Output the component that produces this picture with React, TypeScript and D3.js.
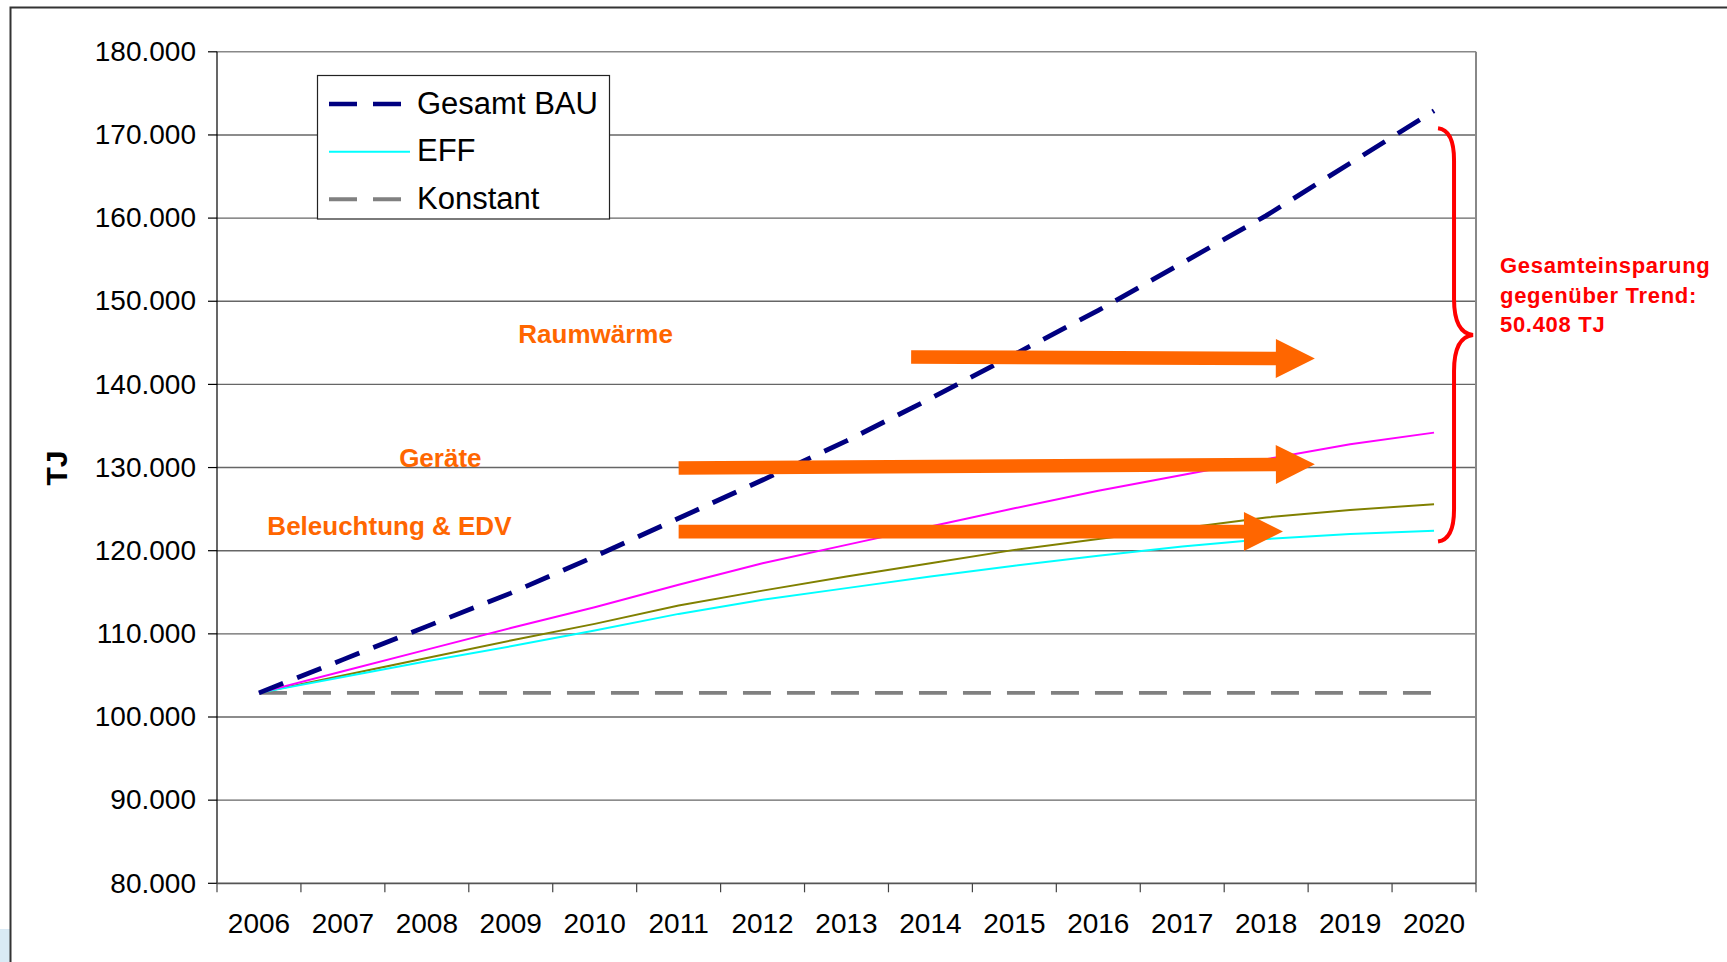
import React from 'react';
import * as d3 from 'd3';

// ---- data (TJ) ----
const years = [2006, 2007, 2008, 2009, 2010, 2011, 2012, 2013, 2014, 2015, 2016, 2017, 2018, 2019, 2020];
const gesamtBAU = [102900, 106900, 110900, 114900, 119300, 123900, 128500, 133200, 138300, 143600, 148900, 154600, 160300, 166600, 172900];
const ohneRaumwaerme = [102900, 105500, 108100, 110700, 113200, 115900, 118500, 120700, 122900, 125100, 127200, 129100, 131000, 132800, 134200];
const ohneGeraete = [102900, 105000, 107100, 109200, 111200, 113400, 115200, 116900, 118500, 120100, 121400, 122700, 124000, 124900, 125600];
const eff = [102900, 104800, 106700, 108500, 110400, 112400, 114100, 115500, 116900, 118200, 119400, 120500, 121400, 122000, 122400];
const konstant = [102900, 102900, 102900, 102900, 102900, 102900, 102900, 102900, 102900, 102900, 102900, 102900, 102900, 102900, 102900];
const yTicks = [80000, 90000, 100000, 110000, 120000, 130000, 140000, 150000, 160000, 170000, 180000];

// legend
const legendNames = ['Gesamt BAU', 'EFF', 'Konstant'];

// annotations (in data units: year, TJ)
const arrowLabels = ['Raumwärme', 'Geräte', 'Beleuchtung & EDV'];
const arrowFromYear = [2013.77, 2011.0, 2011.0];
const arrowToYear = [2018.58, 2018.58, 2018.2];
const arrowFromValue = [143300, 129950, 122300];
const arrowToValue = [143100, 130400, 122300];
const labelYear = [2009.09, 2007.67, 2006.1];
const labelValue = [145000, 130030, 121900];
const savingsText = ['Gesamteinsparung', 'gegenüber Trend:', '50.408 TJ'];
const braceTopValue = 170800;
const braceBottomValue = 121100;

const deLocale = d3.formatLocale({ decimal: ',', thousands: '.', grouping: [3], currency: ['', '€'] });
const fmt = deLocale.format(',d');

const FONT = '"Liberation Sans", Arial, Helvetica, sans-serif';
const ORANGE = '#FF6600';

export default function App() {
  const W = 1727, H = 962;
  const left = 217, right = 1476, top = 51.8, bottom = 883.3;

  const x = d3.scaleBand<string>().domain(years.map(String)).range([left, right]).padding(0);
  const bw = x.bandwidth();
  const xl = d3.scaleLinear().domain([2006, 2020]).range([(x('2006') as number) + bw / 2, (x('2020') as number) + bw / 2]);
  const y = d3.scaleLinear().domain([80000, 180000]).range([bottom, top]);

  const line = d3.line<number>().x((_, i) => xl(years[i])).y((d) => y(d));

  const arrowPoly = (i: number) => {
    const x0 = xl(arrowFromYear[i]), y0 = y(arrowFromValue[i]);
    const x1 = xl(arrowToYear[i]), y1 = y(arrowToValue[i]);
    const dx = x1 - x0, dy = y1 - y0;
    const len = Math.hypot(dx, dy);
    const ux = dx / len, uy = dy / len;
    const nx = -uy, ny = ux;
    const sh = 6.8, hh = 19.5, hl = 39;
    const bx = x1 - ux * hl, by = y1 - uy * hl;
    const pts = [
      [x0 + nx * sh, y0 + ny * sh],
      [bx + nx * sh, by + ny * sh],
      [bx + nx * hh, by + ny * hh],
      [x1, y1],
      [bx - nx * hh, by - ny * hh],
      [bx - nx * sh, by - ny * sh],
      [x0 - nx * sh, y0 - ny * sh],
    ];
    return pts.map((p) => p.join(',')).join(' ');
  };

  // brace
  const bx0 = xl(2020) + 4;
  const bTop = y(braceTopValue), bBot = y(braceBottomValue);
  const bMid = (bTop + bBot) / 2;
  const bv = bx0 + 16, bt = bx0 + 35;
  const bracePath = `M${bx0},${bTop} Q${bv},${bTop + 2} ${bv},${bTop + 32} L${bv},${bMid - 36} Q${bv},${bMid - 2} ${bt},${bMid} Q${bv},${bMid + 2} ${bv},${bMid + 36} L${bv},${bBot - 32} Q${bv},${bBot - 2} ${bx0},${bBot}`;

  const legendY = [104, 151.7, 199.3];

  return (
    <svg width={W} height={H} style={{ position: 'absolute', left: 0, top: 0, display: 'block', background: '#fff' }} fontFamily={FONT}>
      <rect x={0} y={0} width={W} height={H} fill="#fff" />
      {/* page frame */}
      <rect x={0} y={929} width={10} height={33} fill="#d9eaf5" />
      <path d={`M10.5,${H} V7.5 H${W}`} fill="none" stroke="#333" strokeWidth={2} />

      {/* gridlines */}
      {yTicks.filter((t) => t > 80000).map((t) => (
        <line key={t} x1={left} x2={right} y1={y(t)} y2={y(t)} stroke={t === 180000 ? '#888' : '#666'} strokeWidth={1.4} />
      ))}
      {/* right plot border */}
      <line x1={right} x2={right} y1={top} y2={bottom} stroke="#888" strokeWidth={2} />

      {/* series */}
      <path d={line(konstant) || ''} fill="none" stroke="#808080" strokeWidth={3.8} strokeDasharray="28 16" />
      <path d={line(ohneGeraete) || ''} fill="none" stroke="#808000" strokeWidth={2} />
      <path d={line(eff) || ''} fill="none" stroke="#00FFFF" strokeWidth={2} />
      <path d={line(ohneRaumwaerme) || ''} fill="none" stroke="#FF00FF" strokeWidth={2} />
      <path d={line(gesamtBAU) || ''} fill="none" stroke="#000080" strokeWidth={4.8} strokeDasharray="26 15" />

      {/* arrows */}
      {arrowLabels.map((_, i) => (
        <polygon key={i} points={arrowPoly(i)} fill={ORANGE} />
      ))}

      {/* axes */}
      <line x1={left} x2={left} y1={top} y2={bottom} stroke="#000" strokeWidth={1.2} />
      <line x1={left} x2={right} y1={bottom} y2={bottom} stroke="#555" strokeWidth={1.8} />
      {yTicks.map((t) => (
        <g key={t}>
          <line x1={left - 9} x2={left} y1={y(t)} y2={y(t)} stroke="#000" strokeWidth={1.2} />
          <text x={left - 21} y={y(t)} dy="0.33em" textAnchor="end" fontSize={28} fill="#000">{fmt(t)}</text>
        </g>
      ))}
      {years.map((yr, i) => (
        <line key={'t' + yr} x1={left + i * bw} x2={left + i * bw} y1={bottom} y2={bottom + 9} stroke="#444" strokeWidth={1.2} />
      ))}
      <line x1={right} x2={right} y1={bottom} y2={bottom + 9} stroke="#444" strokeWidth={1.2} />
      {years.map((yr) => (
        <text key={'l' + yr} x={(x(String(yr)) as number) + bw / 2} y={933} textAnchor="middle" fontSize={28} fill="#000">{yr}</text>
      ))}
      <text transform={`translate(67,468) rotate(-90)`} textAnchor="middle" fontSize={30} fontWeight="bold" fill="#000">TJ</text>

      {/* legend */}
      <rect x={317.5} y={75.5} width={292} height={143.5} fill="#fff" stroke="#222" strokeWidth={1.2} />
      <line x1={329} x2={401} y1={legendY[0]} y2={legendY[0]} stroke="#000080" strokeWidth={4.5} strokeDasharray="28 16" />
      <line x1={329} x2={410} y1={legendY[1]} y2={legendY[1]} stroke="#00FFFF" strokeWidth={2} />
      <line x1={329} x2={401} y1={legendY[2]} y2={legendY[2]} stroke="#808080" strokeWidth={4} strokeDasharray="28 16" />
      {legendNames.map((n, i) => (
        <text key={n} x={417} y={legendY[i] + 9.5} fontSize={31} fill="#000">{n}</text>
      ))}

      {/* annotation labels */}
      {arrowLabels.map((t, i) => (
        <text key={t} x={xl(labelYear[i])} y={y(labelValue[i])} fontSize={26} fontWeight="bold" fill={ORANGE}>{t}</text>
      ))}

      {/* brace + savings text */}
      <path d={bracePath} fill="none" stroke="#FF0000" strokeWidth={4} />
      {savingsText.map((t, i) => (
        <text key={t} x={1500} y={273 + i * 29.5} fontSize={22} fontWeight="bold" letterSpacing={0.7} fill="#FF0000">{t}</text>
      ))}
    </svg>
  );
}
